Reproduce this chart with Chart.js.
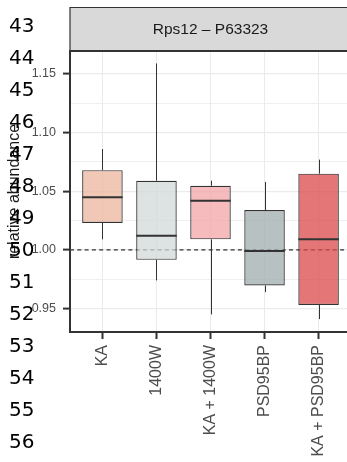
<!DOCTYPE html>
<html>
<head>
<meta charset="utf-8">
<script src="https://cdn.jsdelivr.net/npm/chart.js@4/dist/chart.umd.min.js"></script>
<style>
  html, body { margin: 0; padding: 0; background: #fff; overflow: hidden; }
  #wrap { position: relative; width: 347px; height: 462px; overflow: hidden; }
  #lines {
    position: absolute; left: 9px; top: 9px; margin: 0;
    font-family: "DejaVu Sans", sans-serif; font-size: 20px; line-height: 32px; color: #000;
  }
</style>
</head>
<body>
<div id="wrap">
  <canvas id="boxChart" width="351" height="462"></canvas>
  <pre id="lines">43
44
45
46
47
48
49
50
51
52
53
54
55
56</pre>
</div>
<script>
// Rps12 – P63323, box summary per treatment
const categories = ['KA', '1400W', 'KA + 1400W', 'PSD95BP', 'KA + PSD95BP'];
const whiskerLow  = [1.009, 0.974, 0.945, 0.964, 0.941];
const q1          = [1.023, 0.9915, 1.009, 0.9696, 0.953];
const median      = [1.045, 1.012, 1.042, 0.999, 1.009];
const q3          = [1.068, 1.059, 1.0547, 1.034, 1.065];
const whiskerHigh = [1.086, 1.159, 1.059, 1.058, 1.077];
const boxColors = ['rgba(236,182,158,0.75)', 'rgba(210,218,216,0.75)', 'rgba(242,164,167,0.75)',
                   'rgba(159,172,172,0.75)', 'rgba(219,72,74,0.75)'];
const yTicks = [0.95, 0.975, 1.00, 1.025, 1.05, 1.075, 1.10, 1.125, 1.15];
const refLine = 1.00;
const stripTitle = 'Rps12 \u2013 P63323';

const isMajor = v => Math.round(v * 1000) % 50 === 0;

const boxExtras = {
    id: 'boxExtras',
    beforeDatasetsDraw(chart) {
        const {ctx, chartArea, scales: {x, y}} = chart;
        ctx.save();
        // dashed reference line
        ctx.strokeStyle = '#333';
        ctx.lineWidth = 1.2;
        ctx.setLineDash([4, 3.3]);
        const yr = y.getPixelForValue(refLine);
        ctx.beginPath();
        ctx.moveTo(chartArea.left, yr);
        ctx.lineTo(chartArea.right, yr);
        ctx.stroke();
        ctx.setLineDash([]);
        // whiskers
        ctx.lineWidth = 1;
        categories.forEach((c, i) => {
            const xp = Math.round(x.getPixelForValue(i)) + 0.5;
            ctx.beginPath();
            ctx.moveTo(xp, y.getPixelForValue(q3[i]));
            ctx.lineTo(xp, y.getPixelForValue(whiskerHigh[i]));
            ctx.moveTo(xp, y.getPixelForValue(q1[i]));
            ctx.lineTo(xp, y.getPixelForValue(whiskerLow[i]));
            ctx.stroke();
        });
        ctx.restore();
    },
    afterDatasetsDraw(chart) {
        const {ctx, scales: {y}} = chart;
        const meta = chart.getDatasetMeta(0);
        ctx.save();
        ctx.strokeStyle = '#333';
        ctx.lineWidth = 2;
        categories.forEach((c, i) => {
            const bar = meta.data[i];
            const half = bar.width / 2;
            const ym = y.getPixelForValue(median[i]);
            ctx.beginPath();
            ctx.moveTo(bar.x - half, ym);
            ctx.lineTo(bar.x + half, ym);
            ctx.stroke();
        });
        ctx.restore();
    },
    afterDraw(chart) {
        const {ctx, chartArea} = chart;
        ctx.save();
        const top = 7, bottom = chartArea.top;
        ctx.fillStyle = '#D9D9D9';
        ctx.fillRect(chartArea.left, top, chart.width - chartArea.left + 5, bottom - top);
        ctx.strokeStyle = '#333';
        ctx.lineWidth = 1.2;
        ctx.beginPath();
        ctx.moveTo(chartArea.left, top + 0.5);
        ctx.lineTo(chart.width + 5, top + 0.5);
        ctx.moveTo(chartArea.left, top);
        ctx.lineTo(chartArea.left, bottom);
        ctx.stroke();
        ctx.lineWidth = 2;
        ctx.beginPath();
        ctx.moveTo(chartArea.left - 1, bottom);
        ctx.lineTo(chart.width + 5, bottom);
        ctx.stroke();
        ctx.fillStyle = '#1A1A1A';
        ctx.font = '15.5px "Liberation Sans", Arial, sans-serif';
        ctx.textAlign = 'center';
        ctx.textBaseline = 'middle';
        ctx.fillText(stripTitle, (chartArea.left + chartArea.right) / 2, (top + bottom) / 2 + 1);
        ctx.restore();
    }
};

const ctx1 = document.getElementById('boxChart').getContext('2d');
const boxChart = new Chart(ctx1, {
    type: 'bar',
    data: {
        datasets: [{
            data: categories.map((c, i) => ({x: i, y: [q1[i], q3[i]]})),
            backgroundColor: boxColors,
            borderColor: '#333',
            borderWidth: 1.2,
            borderSkipped: false,
            barPercentage: 0.75,
            categoryPercentage: 1
        }]
    },
    options: {
        responsive: false,
        animation: false,
        events: [],
        layout: { padding: { top: 51, left: 0, right: 0, bottom: 0 } },
        plugins: { legend: { display: false }, tooltip: { enabled: false } },
        scales: {
            x: {
                type: 'linear',
                min: -0.6,
                max: 4.6,
                offset: false,
                afterBuildTicks: s => { s.ticks = categories.map((c, i) => ({value: i})); },
                afterFit: s => { s.height = 130; },
                ticks: {
                    autoSkip: false,
                    minRotation: 90,
                    maxRotation: 90,
                    padding: 6,
                    color: '#4D4D4D',
                    font: { family: '"Liberation Sans", Arial, sans-serif', size: 16 },
                    callback: v => categories[v]
                },
                grid: { offset: false, color: '#EBEBEB', lineWidth: 1, tickColor: '#333', tickWidth: 2, tickLength: 7 },
                border: { color: '#333', width: 2 }
            },
            y: {
                min: 0.930,
                max: 1.1696,
                afterBuildTicks: s => { s.ticks = yTicks.map(v => ({value: v})); },
                afterFit: s => { s.width = 70; },
                ticks: {
                    padding: 7,
                    color: '#4D4D4D',
                    font: { family: '"Liberation Sans", Arial, sans-serif', size: 12.5 },
                    callback: v => isMajor(v) ? v.toFixed(2) : ''
                },
                grid: {
                    color: '#EBEBEB',
                    lineWidth: c => isMajor(c.tick.value) ? 1.2 : 0.8,
                    tickColor: c => isMajor(c.tick.value) ? '#333' : 'rgba(0,0,0,0)',
                    tickWidth: 2,
                    tickLength: 7
                },
                border: { color: '#333', width: 2 },
                title: {
                    display: true,
                    text: 'relative abundance',
                    color: '#1A1A1A',
                    padding: { top: 5, bottom: 0 },
                    font: { family: '"Liberation Sans", Arial, sans-serif', size: 16 }
                }
            }
        }
    },
    plugins: [boxExtras]
});
</script>
</body>
</html>
